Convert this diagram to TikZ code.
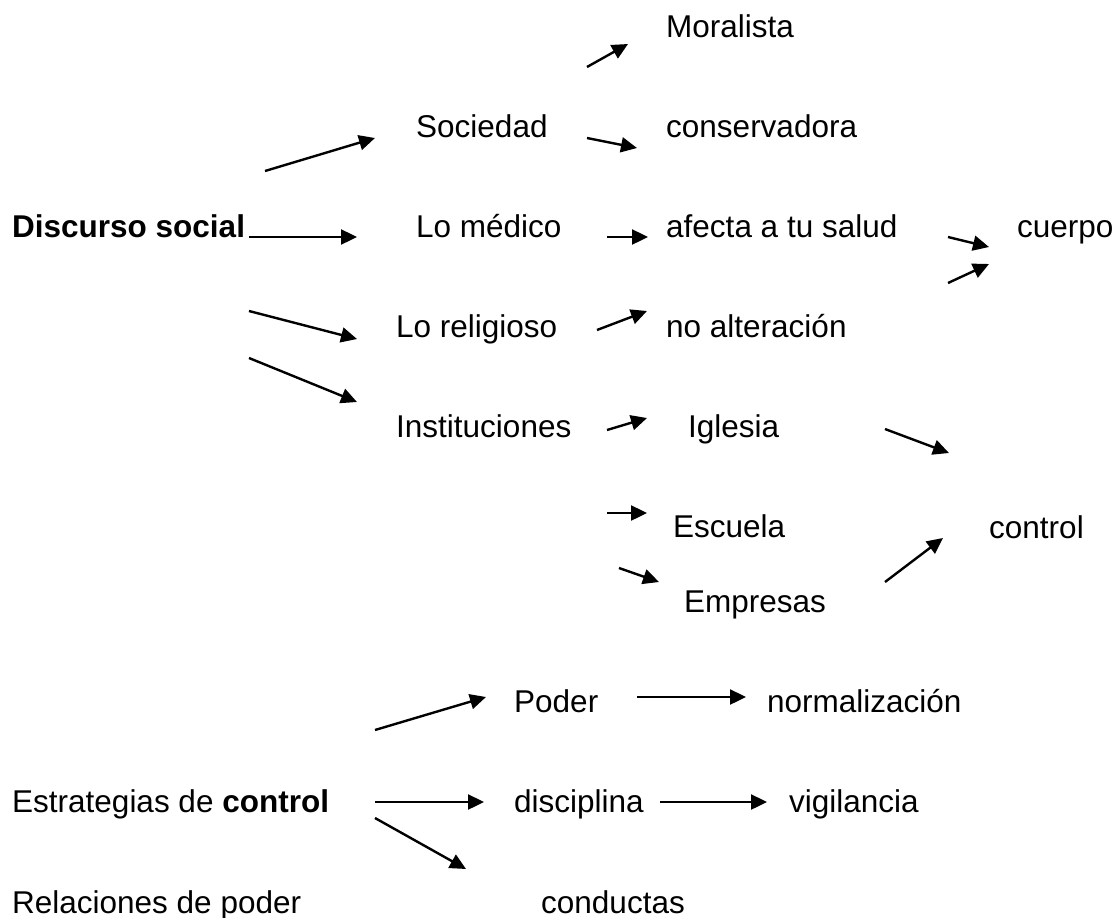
\documentclass[tikz,border=0pt]{standalone}
\usepackage{fontspec}
\setmainfont{Liberation Sans}
\usetikzlibrary{arrows.meta}
\begin{document}
\begin{tikzpicture}[x=1pt,y=-1pt,
  lbl/.style={anchor=base west,inner sep=0pt,font=\fontsize{31.5}{38}\selectfont},
  arr/.style={line width=2.4pt,-{Triangle[length=16pt,width=15pt]}}]
\useasboundingbox (0,0) rectangle (1119,918);
% texts
\node[lbl] (moral) at (666,37) {Moralista};
\node[lbl] (soc) at (416,137) {Sociedad};
\node[lbl] (cons) at (666,137) {conservadora};
\node[lbl] (disc) at (12,237) {\textbf{Discurso social}};
\node[lbl] (med) at (416,237) {Lo médico};
\node[lbl] (afecta) at (666,237) {afecta a tu salud};
\node[lbl] (cuerpo) at (1017,237) {cuerpo};
\node[lbl] (rel) at (396,337) {Lo religioso};
\node[lbl] (noalt) at (666,337) {no alteración};
\node[lbl] (inst) at (396,437) {Instituciones};
\node[lbl] (igl) at (688,437) {Iglesia};
\node[lbl] (esc) at (673,537) {Escuela};
\node[lbl] (ctrl) at (989,538) {control};
\node[lbl] (emp) at (684,612) {Empresas};
\node[lbl] (poder) at (514,712) {Poder};
\node[lbl] (norm) at (767,712) {normalización};
\node[lbl] (estr) at (12,812) {Estrategias de \textbf{control}};
\node[lbl] (discip) at (514,812) {disciplina};
\node[lbl] (vig) at (789,812) {vigilancia};
\node[lbl] (relac) at (12,913) {Relaciones de poder};
\node[lbl] (cond) at (541,913) {conductas};
% arrow end points
\coordinate (a1s) at (265,171); \coordinate (a1e) at (375,138);
\coordinate (a2s) at (249,237); \coordinate (a2e) at (357,237);
\coordinate (a3s) at (249,311); \coordinate (a3e) at (357,339);
\coordinate (a4s) at (249,358); \coordinate (a4e) at (357,402);
\coordinate (b1s) at (587,67);  \coordinate (b1e) at (628,44);
\coordinate (b2s) at (587,138); \coordinate (b2e) at (637,148);
\coordinate (b3s) at (607,237); \coordinate (b3e) at (648,237);
\coordinate (b4s) at (597,330); \coordinate (b4e) at (647,311);
\coordinate (b5s) at (607,430); \coordinate (b5e) at (647,418);
\coordinate (b6s) at (607,513); \coordinate (b6e) at (647,513);
\coordinate (b7s) at (619,568); \coordinate (b7e) at (659,582);
\coordinate (c1s) at (948,237); \coordinate (c1e) at (989,247);
\coordinate (c2s) at (948,283); \coordinate (c2e) at (989,264);
\coordinate (c3s) at (885,429); \coordinate (c3e) at (949,453);
\coordinate (c4s) at (885,582); \coordinate (c4e) at (943,538);
\coordinate (d1s) at (375,730); \coordinate (d1e) at (486,697);
\coordinate (d2s) at (375,802); \coordinate (d2e) at (484,802);
\coordinate (d3s) at (375,818); \coordinate (d3e) at (466,869);
\coordinate (d4s) at (637,697); \coordinate (d4e) at (746,697);
\coordinate (d5s) at (660,802); \coordinate (d5e) at (767,802);
% arrows
\foreach \p in {a1,a2,a3,a4,b1,b2,b3,b4,b5,b6,b7,c1,c2,c3,c4,d1,d2,d3,d4,d5}
  \draw[arr] (\p s) -- (\p e);
\end{tikzpicture}
\end{document}
